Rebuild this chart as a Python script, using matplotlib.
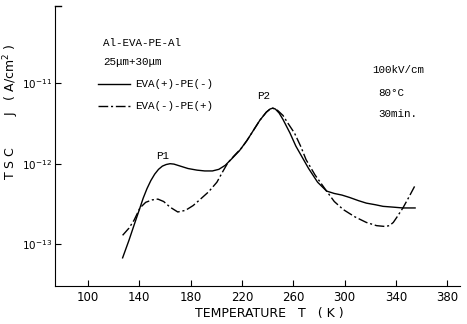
import matplotlib
matplotlib.use("Agg")
import matplotlib.pyplot as plt
from matplotlib.lines import Line2D

# EVA(+)-PE(-)  (solid)
temp_a = [127, 132, 136, 140.5, 143, 146, 149, 152, 155, 158, 161, 164, 167, 172, 178, 185,
          191, 197, 202, 207, 212, 218, 224, 230, 234, 239, 242, 244, 246, 249, 252, 257.5,
          262, 267, 272, 279, 286, 292, 298, 304, 311, 317, 324, 330, 338, 345.5, 355]
log_a = [-13.17, -12.95, -12.76, -12.55, -12.43, -12.31, -12.21, -12.13, -12.07, -12.03,
         -12.01, -12.00, -12.005, -12.03, -12.06, -12.08, -12.09, -12.09, -12.07, -12.02,
         -11.94, -11.84, -11.71, -11.56, -11.46, -11.36, -11.32, -11.31, -11.32, -11.37,
         -11.45, -11.62, -11.78, -11.92, -12.06, -12.23, -12.34, -12.37, -12.39, -12.42,
         -12.46, -12.49, -12.51, -12.53, -12.54, -12.55, -12.55]

# EVA(-)-PE(+)  (dash-dot)
temp_b = [127, 132, 136, 140.5, 145, 150, 154.5, 159, 164, 170, 176, 182, 187, 194, 200.5,
          205, 209, 214, 220, 224, 230, 234, 239, 242, 244, 246, 248, 252, 256, 261, 266,
          270, 277, 286, 292, 299, 308, 317, 325, 331.5, 335, 338, 341, 345.5, 350, 355]
log_b = [-12.89, -12.80, -12.70, -12.55, -12.48, -12.45, -12.44, -12.47, -12.54, -12.60,
         -12.58, -12.52, -12.45, -12.35, -12.23, -12.10, -11.99, -11.90, -11.80, -11.71,
         -11.56, -11.46, -11.36, -11.32, -11.31, -11.32, -11.34, -11.40, -11.50, -11.62,
         -11.79, -11.95, -12.14, -12.34, -12.47, -12.57, -12.66, -12.73, -12.77, -12.78,
         -12.77, -12.73, -12.66, -12.55, -12.42, -12.27]

xticks = [100, 140, 180, 220, 260, 300, 340, 380]
yticks = [1e-13, 1e-12, 1e-11]
ytick_labels = ["$10^{-13}$", "$10^{-12}$", "$10^{-11}$"]

mono = "Liberation Mono"
dashdot = (0, (7, 2, 1.5, 2))

fig = plt.figure(figsize=(4.67, 3.24), dpi=100)
ax = fig.add_axes([55 / 467, 38 / 324, 405 / 467, 280 / 324])

ax.semilogy(temp_a, [10 ** v for v in log_a], color="black", lw=1.0)
ax.semilogy(temp_b, [10 ** v for v in log_b], color="black", lw=1.0, linestyle=dashdot)

ax.set_xlim(74.3, 390)
ax.set_ylim(10 ** -13.52, 10 ** -10.04)
ax.set_xticks(xticks)
ax.set_yticks(yticks)
ax.set_yticklabels(ytick_labels)
ax.minorticks_off()
ax.tick_params(direction="in", length=4, width=0.8, labelsize=8.5, colors="black")
ax.tick_params(axis="y", labelsize=7.5, pad=2)

for side in ["top", "right"]:
    ax.spines[side].set_visible(False)
# small bracket on top of the y axis
ax.plot([0, 0.015], [1, 1], transform=ax.transAxes, color="black", lw=1, clip_on=False)

ax.set_xlabel("TEMPERATURE   T   ( K )", fontsize=9)
ax.xaxis.set_label_coords(0.53, -0.075)
ax.set_ylabel("T S C        J   ( A/cm$^2$ )", fontsize=9)
ax.yaxis.set_label_coords(-0.085, 0.62)

# header texts
ax.text(0.119, 0.868, "Al-EVA-PE-Al", transform=ax.transAxes, family=mono, fontsize=7.8, va="center")
ax.text(0.119, 0.80, "25\u03bcm+30\u03bcm", transform=ax.transAxes, family=mono, fontsize=7.8, va="center")

# legend
ax.add_line(Line2D([0.106, 0.185], [0.721, 0.721], transform=ax.transAxes, color="black", lw=1))
ax.text(0.198, 0.721, "EVA(+)-PE(-)", transform=ax.transAxes, family=mono, fontsize=7.8, va="center")
ax.add_line(Line2D([0.106, 0.185], [0.643, 0.643], transform=ax.transAxes, color="black", lw=1,
                   linestyle=dashdot))
ax.text(0.198, 0.643, "EVA(-)-PE(+)", transform=ax.transAxes, family=mono, fontsize=7.8, va="center")

# conditions
ax.text(0.783, 0.771, "100kV/cm", transform=ax.transAxes, family=mono, fontsize=7.8, va="center")
ax.text(0.798, 0.689, "80\u00b0C", transform=ax.transAxes, family=mono, fontsize=7.8, va="center")
ax.text(0.798, 0.614, "30min.", transform=ax.transAxes, family=mono, fontsize=7.8, va="center")

# peak labels
ax.text(237, 10 ** -11.16, "P2", family=mono, fontsize=7.8, ha="center", va="center")
ax.text(158, 10 ** -11.9, "P1", family=mono, fontsize=7.8, ha="center", va="center")

fig.savefig("out.png", dpi=100)
